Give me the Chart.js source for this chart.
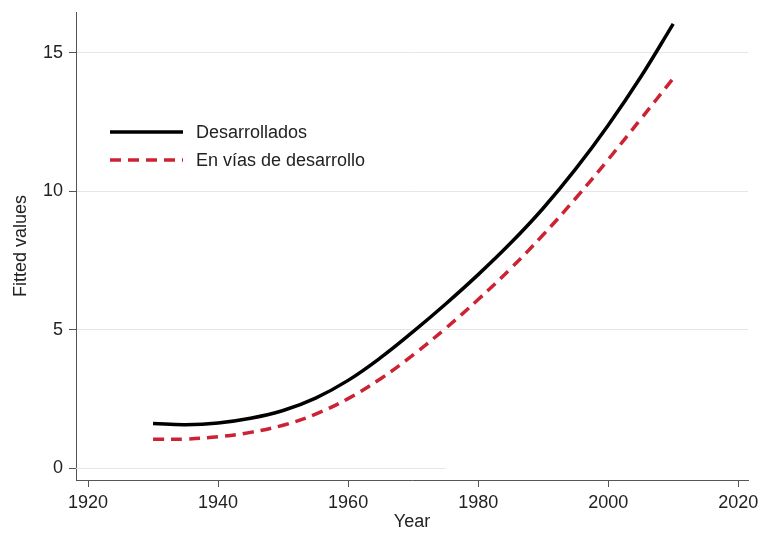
<!DOCTYPE html>
<html>
<head>
<meta charset="utf-8">
<script src="https://cdn.jsdelivr.net/npm/chart.js@4.4.1/dist/chart.umd.min.js"></script>
<style>
  html, body { margin: 0; padding: 0; background: #fff; }
  canvas { display: block; }
</style>
</head>
<body>
<canvas id="grafica" width="759" height="533"></canvas>
<script>
// valores (cada 5 años)
const years = [1930, 1935, 1940, 1945, 1950, 1955, 1960, 1965, 1970, 1975, 1980, 1985, 1990, 1995, 2000, 2005, 2010];
const desarrollados = [1.61, 1.57, 1.63, 1.80, 2.08, 2.53, 3.17, 3.99, 4.93, 5.93, 6.99, 8.13, 9.39, 10.81, 12.39, 14.13, 16.05];
const enVias = [1.04, 1.05, 1.13, 1.29, 1.55, 1.95, 2.51, 3.23, 4.09, 5.05, 6.09, 7.21, 8.43, 9.75, 11.15, 12.61, 14.08];

const xTicks = [1920, 1940, 1960, 1980, 2000, 2020];
const yTicks = [0, 5, 10, 15];

// la línea de cero sólo llega hasta aquí en el original
const zeroLineEnd = 1975;

const FONT = "'Liberation Sans', Arial, sans-serif";
const AXIS = "#555";
const TEXT = "#222";

const toPoints = (vals) => years.map((yr, i) => ({ x: yr, y: vals[i] }));

// leyenda dentro del área del gráfico
const legendInside = {
  id: "legendInside",
  afterDraw(chart) {
    const ctx = chart.ctx;
    const { left, top } = chart.chartArea;
    ctx.save();
    chart.data.datasets.forEach((ds, i) => {
      const y = top + 120 + i * 28;
      ctx.beginPath();
      ctx.strokeStyle = ds.borderColor;
      ctx.lineWidth = ds.borderWidth;
      ctx.setLineDash(ds.borderDash || []);
      ctx.moveTo(left + 34, y);
      ctx.lineTo(left + 107, y);
      ctx.stroke();
      ctx.setLineDash([]);
      ctx.fillStyle = TEXT;
      ctx.font = "18px " + FONT;
      ctx.textBaseline = "middle";
      ctx.fillText(ds.label, left + 120, y + 1);
    });
    ctx.restore();
  }
};

// línea de cero parcial
const zeroLine = {
  id: "zeroLine",
  beforeDatasetsDraw(chart) {
    const ctx = chart.ctx;
    const x = chart.scales.x;
    const y = chart.scales.y;
    const py = Math.round(y.getPixelForValue(0)) + 0.5;
    ctx.save();
    ctx.strokeStyle = "#e6e6e6";
    ctx.lineWidth = 1;
    ctx.beginPath();
    ctx.moveTo(chart.chartArea.left, py);
    ctx.lineTo(x.getPixelForValue(zeroLineEnd), py);
    ctx.stroke();
    ctx.restore();
  }
};

const ctx = document.getElementById("grafica").getContext("2d");
const chart = new Chart(ctx, {
  type: "line",
  data: {
    datasets: [
      {
        label: "Desarrollados",
        data: toPoints(desarrollados),
        borderColor: "#000000",
        borderWidth: 3.5,
        pointRadius: 0,
        tension: 0.4
      },
      {
        label: "En vías de desarrollo",
        data: toPoints(enVias),
        borderColor: "#cc2233",
        borderWidth: 3.5,
        borderDash: [11, 7],
        borderCapStyle: "butt",
        pointRadius: 0,
        tension: 0.4
      }
    ]
  },
  options: {
    responsive: false,
    animation: false,
    devicePixelRatio: 1,
    layout: { padding: { left: 0, top: 12, right: 11, bottom: 0 } },
    plugins: {
      legend: { display: false },
      tooltip: { enabled: false }
    },
    scales: {
      x: {
        type: "linear",
        min: 1918.15,
        max: 2021.5,
        afterBuildTicks: (s) => { s.ticks = xTicks.map((v) => ({ value: v })); },
        afterFit: (s) => { s.height = 53; s.paddingLeft = 0; s.paddingRight = 0; },
        ticks: {
          font: { family: FONT, size: 18 },
          color: TEXT,
          padding: 5,
          maxRotation: 0,
          autoSkip: false,
          callback: (v) => String(v)
        },
        grid: { drawOnChartArea: false, tickLength: 7, color: AXIS, tickColor: AXIS },
        border: { color: AXIS, width: 1 },
        title: {
          display: true,
          text: "Year",
          color: TEXT,
          font: { family: FONT, size: 18 },
          padding: 0
        }
      },
      y: {
        min: -0.43,
        max: 16.48,
        afterBuildTicks: (s) => { s.ticks = yTicks.map((v) => ({ value: v })); },
        afterFit: (s) => { s.width = 76; s.paddingTop = 0; s.paddingBottom = 0; },
        ticks: {
          font: { family: FONT, size: 18 },
          color: TEXT,
          padding: 6,
          autoSkip: false,
          callback: (v) => String(v)
        },
        grid: {
          color: (c) => (c.tick && c.tick.value === 0 ? "rgba(0,0,0,0)" : "#e6e6e6"),
          tickColor: AXIS,
          tickLength: 7
        },
        border: { color: AXIS, width: 1 },
        title: {
          display: true,
          text: "Fitted values",
          color: TEXT,
          font: { family: FONT, size: 18 },
          padding: { top: 10, bottom: 0 }
        }
      }
    }
  },
  plugins: [zeroLine, legendInside]
});
</script>
</body>
</html>
